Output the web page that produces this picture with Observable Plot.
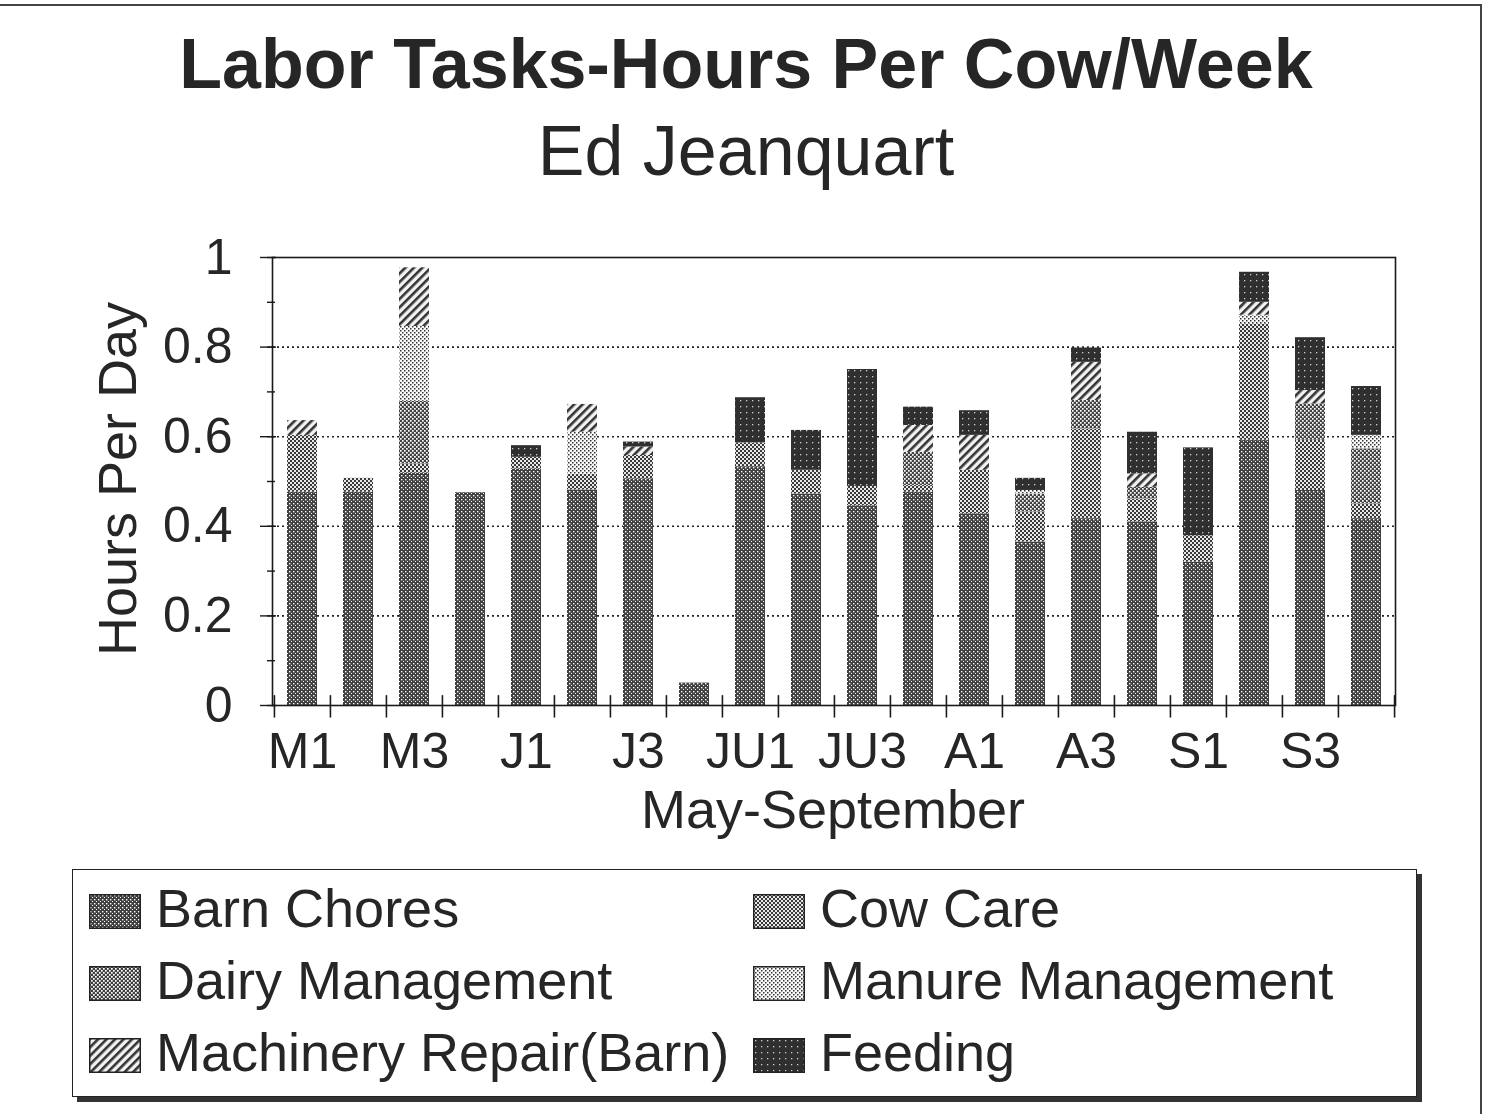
<!DOCTYPE html>
<html>
<head>
<meta charset="utf-8">
<script src="https://cdn.jsdelivr.net/npm/d3@7"></script>
<script src="https://cdn.jsdelivr.net/npm/@observablehq/plot@0.6"></script>
<style>
  html, body { margin: 0; padding: 0; background: #fff; }
  body { width: 1486px; height: 1114px; position: relative; overflow: hidden;
         font-family: "Liberation Sans", Arial, sans-serif; color: #262626; }
  .abs { position: absolute; white-space: nowrap; }
  #title { left: 0; width: 1492px; top: 29px; text-align: center; font-size: 70px; line-height: 70px; font-weight: bold; }
  #subtitle { left: 0; width: 1492px; top: 116px; text-align: center; font-size: 70px; line-height: 70px; }
  #ylabel { left: 117px; top: 479px; font-size: 54px; line-height: 54px; transform: translate(-50%, -50%) rotate(-90deg); }
  #xlabel { left: 0; width: 1666px; top: 782px; text-align: center; font-size: 54px; line-height: 54px; }
  #chart { position: absolute; left: 0; top: 230px; }
  #legend { position: absolute; left: 72px; top: 869px; width: 1343px; height: 226px;
            border: 1.5px solid #222; box-shadow: 5px 5px 0 #333; background: #fff; }
  .item { position: absolute; font-size: 54px; line-height: 54px; }
  .item svg { position: absolute; }
  #pageframe { position: absolute; left: 0; top: 4px; width: 1480px; height: 1200px;
               border-top: 2px solid #444; border-right: 2px solid #444; }
</style>
</head>
<body>
<div id="pageframe"></div>
<svg width="0" height="0" style="position:absolute">
  <defs>
    <pattern id="p-barn" width="4" height="4" patternUnits="userSpaceOnUse">
      <rect width="4" height="4" fill="#404040"/>
      <rect x="1" y="1" width="1.4" height="1.4" fill="#fff"/>
      <rect x="3" y="3" width="1.4" height="1.4" fill="#fff"/>
    </pattern>
    <pattern id="p-cow" width="4" height="4" patternUnits="userSpaceOnUse">
      <rect width="4" height="4" fill="#e8e8e8"/>
      <rect x="0" y="0" width="2" height="2" fill="#3a3a3a"/>
      <rect x="2" y="2" width="2" height="2" fill="#3a3a3a"/>
    </pattern>
    <pattern id="p-dairy" width="4" height="4" patternUnits="userSpaceOnUse">
      <rect width="4" height="4" fill="#404040"/>
      <rect x="0" y="0" width="1.7" height="1.7" fill="#fff"/>
      <rect x="2" y="2" width="1.7" height="1.7" fill="#fff"/>
    </pattern>
    <pattern id="p-manure" width="4" height="4" patternUnits="userSpaceOnUse">
      <rect width="4" height="4" fill="#fafafa"/>
      <rect x="0" y="0" width="1.5" height="1.5" fill="#333"/>
      <rect x="2" y="2" width="1.5" height="1.5" fill="#333"/>
    </pattern>
    <pattern id="p-mach" width="6" height="6" patternUnits="userSpaceOnUse" patternTransform="rotate(45)">
      <rect width="6" height="6" fill="#f2f2f2"/>
      <rect x="0" y="0" width="2.6" height="6" fill="#333"/>
    </pattern>
    <pattern id="p-feed" width="6" height="6" patternUnits="userSpaceOnUse">
      <rect width="6" height="6" fill="#2f2f2f"/>
      <rect x="2" y="2" width="1.3" height="1.3" fill="#cfcfcf"/>
    </pattern>
  </defs>
</svg>

<div id="title" class="abs">Labor Tasks-Hours Per Cow/Week</div>
<div id="subtitle" class="abs">Ed Jeanquart</div>
<div id="ylabel" class="abs">Hours Per Day</div>
<div id="chart"></div>
<div id="xlabel" class="abs">May-September</div>
<div id="legend"></div>

<script>
// ---- data ----
const weeks = ["M1","M2","M3","M4","J1","J2","J3","J4","JU1","JU2","JU3","JU4","A1","A2","A3","A4","S1","S2","S3","S4"];
const tasks = ["Barn Chores","Cow Care","Dairy Management","Manure Management","Machinery Repair(Barn)","Feeding"];
const barnChores       = [0.476,0.476,0.519,0.475,0.528,0.481,0.506,0.050,0.533,0.472,0.446,0.476,0.428,0.365,0.417,0.410,0.320,0.592,0.480,0.417];
const cowCare          = [0.127,0.031,0.020,0,0.026,0.035,0.052,0,0.053,0.053,0.043,0.015,0.097,0.067,0.200,0.051,0.059,0.260,0.112,0.033];
const dairyManagement  = [0,0,0.140,0,0,0,0,0,0,0,0,0.074,0,0.040,0.064,0.026,0,0,0.081,0.123];
const manureManagement = [0,0,0.167,0,0,0.094,0,0,0,0,0,0,0,0.008,0,0,0,0.019,0,0.030];
const machineryRepair  = [0.033,0,0.131,0,0,0.062,0.019,0,0,0,0,0.060,0.078,0,0.085,0.030,0,0.029,0.030,0];
const feeding          = [0,0,0,0,0.026,0,0.011,0,0.101,0.089,0.261,0.041,0.055,0.027,0.032,0.093,0.196,0.067,0.118,0.109];
const yTicks = [0, 0.2, 0.4, 0.6, 0.8, 1];
const yMinorTicks = [0, 0.1, 0.2, 0.3, 0.4, 0.5, 0.6, 0.7, 0.8, 0.9, 1];
const gridValues = [0.2, 0.4, 0.6, 0.8];

// ---- styling ----
const fills = ["url(#p-barn)","url(#p-cow)","url(#p-dairy)","url(#p-manure)","url(#p-mach)","url(#p-feed)"];

const series = [barnChores, cowCare, dairyManagement, manureManagement, machineryRepair, feeding];
const data = [];
tasks.forEach((t, k) => weeks.forEach((w, i) => data.push({week: w, task: t, value: series[k][i]})));

const W = 1486, H = 620;
const mL = 272, mR = 91, mT = 27, mB = 145;
const step = (W - mL - mR) / weeks.length;

const chart = Plot.plot({
  width: W, height: H,
  marginLeft: mL, marginRight: mR, marginTop: mT, marginBottom: mB,
  style: {fontFamily: "'Liberation Sans', Arial, sans-serif", color: "#262626", background: "transparent", overflow: "visible"},
  x: {domain: weeks, paddingInner: 0.47, paddingOuter: 0.235, axis: null},
  y: {domain: [0, 1], axis: null},
  color: {type: "ordinal", domain: tasks, range: fills},
  marks: [
    Plot.ruleY(gridValues, {stroke: "#222", strokeWidth: 1.6, strokeDasharray: "2,3"}),
    Plot.barY(data, {x: "week", y: "value", fill: "task", order: tasks}),
    Plot.frame({stroke: "#1a1a1a", strokeWidth: 1.6}),
    Plot.axisY({ticks: yTicks, tickSize: 0, tickPadding: 40, fontSize: 50, label: null,
                tickFormat: d => String(d)}),
    Plot.axisY({ticks: yTicks, tickSize: 16, dx: 4, label: null, tickFormat: () => "", stroke: "#1a1a1a", strokeWidth: 1.4}),
    Plot.axisY({ticks: yMinorTicks, tickSize: 8, dx: 3, label: null, tickFormat: () => "", stroke: "#1a1a1a", strokeWidth: 1.4}),
    Plot.axisX({tickSize: 0, tickPadding: 27, fontSize: 50, label: null,
                tickFormat: (d, i) => (weeks.indexOf(d) % 2 === 0 ? d : "")}),
    Plot.ruleX(weeks, {x: d => d, dx: -step / 2, y1: -0.028, y2: 0.022, stroke: "#1a1a1a", strokeWidth: 1.6}),
    Plot.ruleX([weeks[weeks.length - 1]], {x: d => d, dx: step / 2, y1: -0.028, y2: 0.022, stroke: "#1a1a1a", strokeWidth: 1.6})
  ]
});
document.getElementById("chart").appendChild(chart);

// ---- legend ----
const legend = document.getElementById("legend");
tasks.forEach((name, k) => {
  const col = k % 2, row = Math.floor(k / 2);
  const left = col === 0 ? 16 : 680;
  const top = 24 + row * 72;
  const sw = document.createElementNS("http://www.w3.org/2000/svg", "svg");
  sw.setAttribute("width", 52); sw.setAttribute("height", 35);
  sw.style.left = left + "px"; sw.style.top = top + "px"; sw.style.position = "absolute";
  const r = document.createElementNS("http://www.w3.org/2000/svg", "rect");
  r.setAttribute("x", 0.75); r.setAttribute("y", 0.75); r.setAttribute("width", 50.5); r.setAttribute("height", 33.5);
  r.setAttribute("fill", fills[k]); r.setAttribute("stroke", "#222"); r.setAttribute("stroke-width", 1.5);
  sw.appendChild(r);
  legend.appendChild(sw);
  const t = document.createElement("div");
  t.className = "item";
  t.textContent = name;
  t.style.left = (left + 67) + "px";
  t.style.top = (top - 13) + "px";
  legend.appendChild(t);
});
</script>
</body>
</html>
